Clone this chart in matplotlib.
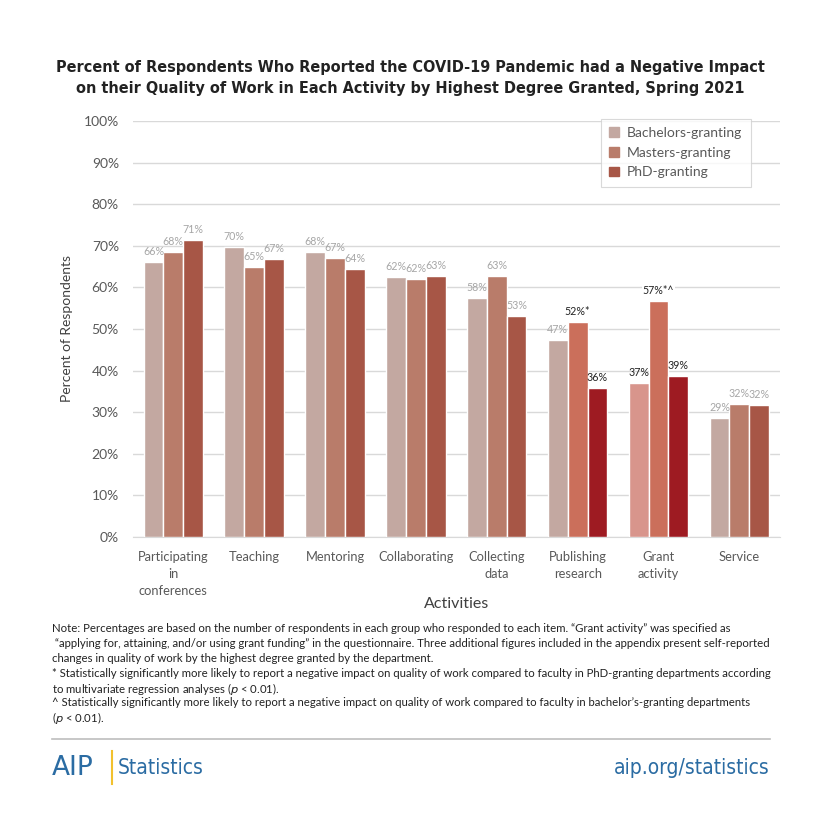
import matplotlib
matplotlib.use("Agg")
import matplotlib.pyplot as plt
import numpy as np
from matplotlib import font_manager as fm

names = {f.name for f in fm.fontManager.ttflist}
body = 'Lato' if 'Lato' in names else 'DejaVu Sans'
plt.rcParams['font.family'] = [body, 'DejaVu Sans']

categories = ["Participating\nin\nconferences", "Teaching", "Mentoring", "Collaborating",
              "Collecting\ndata", "Publishing\nresearch", "Grant\nactivity", "Service"]
series_names = ["Bachelors-granting", "Masters-granting", "PhD-granting"]
bachelors = [66.0, 69.8, 68.4, 62.4, 57.5, 47.4, 37.0, 28.6]
masters = [68.5, 64.8, 67.1, 62.0, 62.7, 51.6, 56.8, 32.0]
phd = [71.3, 66.8, 64.4, 62.8, 53.1, 35.9, 38.6, 31.8]
labels_b = ["66%", "70%", "68%", "62%", "58%", "47%", "37%", "29%"]
labels_m = ["68%", "65%", "67%", "62%", "63%", "52%*", "57%*^", "32%"]
labels_p = ["71%", "67%", "64%", "63%", "53%", "36%", "39%", "32%"]
yticks = [0, 10, 20, 30, 40, 50, 60, 70, 80, 90, 100]

base_colors = ["#C3A8A1", "#B97C6A", "#A75646"]
hl = {(5, 1): "#CB6F5B", (5, 2): "#9E1B22",
      (6, 0): "#D8958C", (6, 1): "#CB6F5B", (6, 2): "#9E1B22"}
hl_labels = {(5, 1), (5, 2), (6, 0), (6, 1), (6, 2)}

fig = plt.figure(figsize=(8.2, 8.19), dpi=100)
ax = fig.add_axes([0.162, 0.3443, 0.789, 0.508])

x = np.arange(len(categories))
w = 0.245
series = [bachelors, masters, phd]
labs = [labels_b, labels_m, labels_p]
for s in range(3):
    for i in range(len(categories)):
        c = hl.get((i, s), base_colors[s])
        xi = x[i] + (s - 1) * w
        ax.bar(xi, series[s][i], width=w, color=c, edgecolor='white', linewidth=1.0, zorder=3)
        lc = '#222222' if (i, s) in hl_labels else '#A6A6A6'
        ax.text(xi, series[s][i] + 1.2, labs[s][i], ha='center', va='bottom', fontsize=7.7,
                color=lc, zorder=4,
                bbox=dict(facecolor='white', edgecolor='none', pad=0.5) if (i, s) == (6, 1) else None)

ax.set_ylim(0, 100)
ax.set_xlim(-0.5, len(categories) - 0.5)
ax.set_yticks(yticks)
ax.set_yticklabels([f"{t}%" for t in yticks], fontsize=10, color='#595959')
ax.set_xticks(x)
ax.set_xticklabels(categories, fontsize=9.3, color='#595959', linespacing=1.5)
ax.tick_params(axis='both', length=0)
ax.tick_params(axis='x', pad=10)
ax.tick_params(axis='y', pad=10)
ax.grid(axis='y', color='#D9D9D9', linewidth=1.0, zorder=0)
for sp in ['top', 'right', 'left']:
    ax.spines[sp].set_visible(False)
ax.spines['bottom'].set_color('#D9D9D9')
ax.set_ylabel("Percent of Respondents", fontsize=10, color='#404040', labelpad=8)
ax.set_xlabel("Activities", fontsize=11.5, color='#404040', labelpad=0)

handles = [plt.Rectangle((0, 0), 1, 1, color=c) for c in base_colors]
leg = ax.legend(handles, series_names, loc='upper right', bbox_to_anchor=(0.955, 1.005),
                frameon=True, fancybox=False, edgecolor='#D0D0D0', handlelength=0.7, handleheight=0.7,
                prop={'size': 10}, labelcolor='#595959',
                borderpad=0.6, labelspacing=0.55, handletextpad=0.6, borderaxespad=0)
leg.get_frame().set_linewidth(0.8)

fig.text(0.5, 0.905, "Percent of Respondents Who Reported the COVID-19 Pandemic had a Negative Impact\non their Quality of Work in Each Activity by Highest Degree Granted, Spring 2021",
         ha='center', va='center', fontsize=11.6, fontweight='bold', color='#222222', linespacing=1.55,
         family=['DejaVu Sans'], fontstretch='condensed')

note_lines = [
    "Note: Percentages are based on the number of respondents in each group who responded to each item. \u201cGrant activity\u201d was specified as",
    " \u201capplying for, attaining, and/or using grant funding\u201d in the questionnaire. Three additional figures included in the appendix present self-reported",
    "changes in quality of work by the highest degree granted by the department.",
    "* Statistically significantly more likely to report a negative impact on quality of work compared to faculty in PhD-granting departments according",
    "to multivariate regression analyses ($\\it{p}$ < 0.01).",
    "^ Statistically significantly more likely to report a negative impact on quality of work compared to faculty in bachelor\u2019s-granting departments",
    "($\\it{p}$ < 0.01).",
]
y0 = 1 - 628 / 819
dy = 14.7 / 819
for k, line in enumerate(note_lines):
    fig.text(0.063, y0 - k * dy, line, ha='left', va='center_baseline', fontsize=8.2, color='#222222')

fig.add_artist(plt.Line2D([0.063, 0.939], [1 - 739 / 819, 1 - 739 / 819], transform=fig.transFigure, color='#BDBDBD', linewidth=1.2))
fig.text(0.063, 0.062, "AIP", ha='left', va='center', fontsize=19, color='#2B6CA3', family=['DejaVu Sans'])
fig.add_artist(plt.Line2D([0.137, 0.137], [0.043, 0.083], transform=fig.transFigure, color='#F2C12E', linewidth=1.5))
fig.text(0.143, 0.062, "Statistics", ha='left', va='center', fontsize=15, color='#2B6CA3',
         family=['DejaVu Sans'], fontstretch='condensed')
fig.text(0.939, 0.062, "aip.org/statistics", ha='right', va='center', fontsize=15, color='#2B6CA3',
         family=['DejaVu Sans'], fontstretch='condensed')

fig.savefig("out.png", dpi=100, facecolor='white')
